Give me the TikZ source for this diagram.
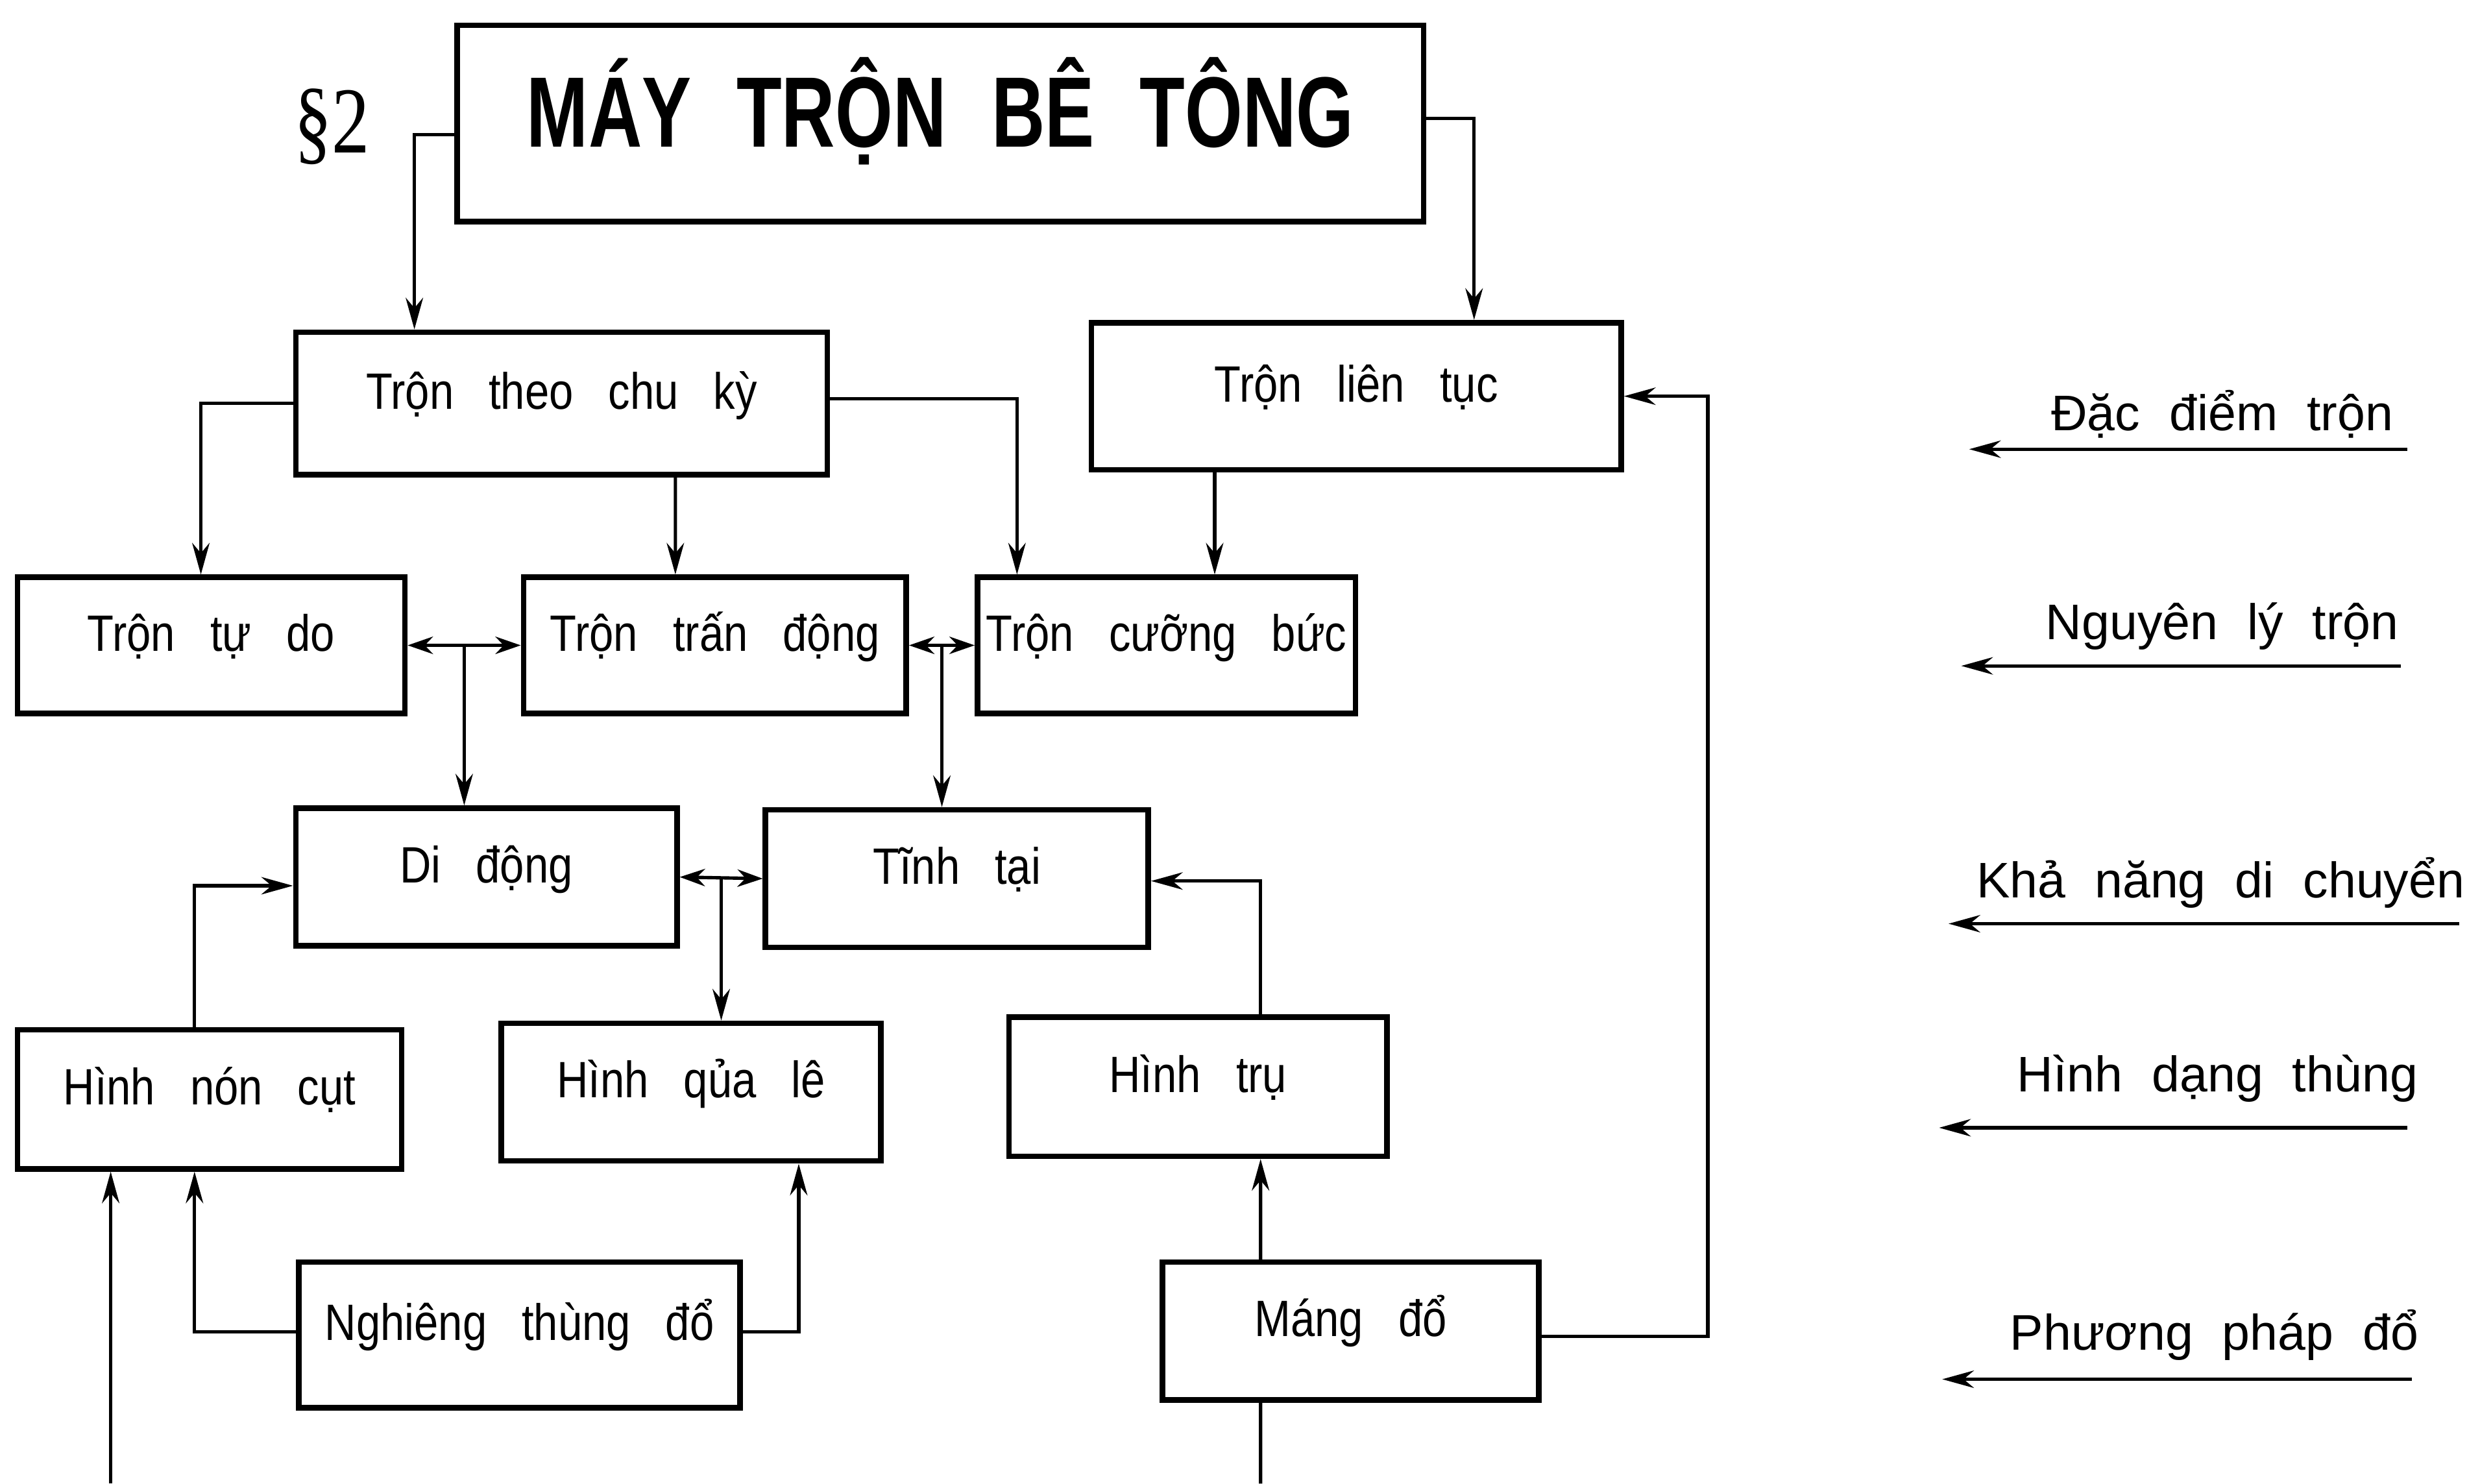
\documentclass[tikz,border=0pt]{standalone}
\usepackage{fontspec}
\setmainfont{Liberation Sans}
\newfontfamily\boxfont[FakeStretch=0.85,WordSpace=2.9]{Liberation Sans}
\newfontfamily\titlefont[FakeStretch=0.74,WordSpace=2.2]{Liberation Sans}
\newfontfamily\legfont[WordSpace=2.1]{Liberation Sans}
\newfontfamily\parafont[FakeStretch=0.8]{Liberation Serif}
\usepackage{tikz}
\usetikzlibrary{arrows.meta,calc}

\tikzset{
    box/.style={draw, line width=1pt, inner sep=0pt, minimum width=2.41cm, minimum height=0.87cm,
        text height=0.27cm, text depth=0.2cm, font=\boxfont\fontsize{9.2}{11}\selectfont},
    link/.style={line width=0.6pt, -{Stealth[length=2mm,width=1.1mm]}},
    both/.style={line width=0.6pt, {Stealth[length=1.6mm,width=1.1mm]}-{Stealth[length=1.6mm,width=1.1mm]}},
    plain/.style={line width=0.6pt},
    legend/.style={font=\legfont\fontsize{9}{11}\selectfont, inner sep=0pt}
}

\begin{document}
\begin{tikzpicture}
        \useasboundingbox (0,0) rectangle (15.68,-9.38);

        \node[box, minimum width=6.11cm, minimum height=1.24cm, text height=0.45cm, text depth=0.15cm,
            font=\titlefont\bfseries\fontsize{18}{20}\selectfont] (may) at (5.945,-0.78) {MÁY TRỘN BÊ TÔNG};
        \node[font=\parafont\fontsize{17}{20}\selectfont, inner sep=0pt] (para) at (2.10,-0.80) {§2};

        \node[box, minimum width=3.36cm, minimum height=0.90cm] (theo) at (3.55,-2.55) {Trộn theo chu kỳ};
        \node[box, minimum width=3.35cm, minimum height=0.93cm] (lt) at (8.575,-2.505) {Trộn liên tục};

        \node[box, minimum width=2.45cm, minimum height=0.86cm] (tudo) at (1.335,-4.08) {Trộn tự do};
        \node[box, minimum width=2.42cm, minimum height=0.86cm] (tran) at (4.52,-4.08) {Trộn trấn động};
        \node[box, minimum width=2.39cm, minimum height=0.86cm] (cuong) at (7.375,-4.08) {Trộn cưỡng bức};

        \node[box] (didong) at (3.075,-5.545) {Di động};
        \node[box, minimum width=2.42cm] (tinh) at (6.05,-5.555) {Tĩnh tại};

        \node[box, minimum width=2.43cm, minimum height=0.88cm] (noncut) at (1.325,-6.95) {Hình nón cụt};
        \node[box, minimum width=2.40cm] (quale) at (4.37,-6.905) {Hình qủa lê};
        \node[box, minimum width=2.39cm, minimum height=0.88cm] (tru) at (7.575,-6.87) {Hình trụ};

        \node[box, minimum width=2.79cm, minimum height=0.92cm] (nghieng) at (3.285,-8.44) {Nghiêng thùng đổ};
        \node[box, minimum width=2.38cm] (mang) at (8.54,-8.415) {Máng đổ};

        \coordinate (j1) at ($(tudo.east)!0.5!(tran.west)$);
        \coordinate (j2) at ($(tran.east)!0.5!(cuong.west)$);
        \coordinate (j3) at ($(didong.east)!0.5!(tinh.west)$);
        \coordinate (in1) at (0.70,-9.38);
        \coordinate (out1) at (7.97,-9.38);

        \draw[link] ([yshift=-0.07cm]may.west) -| ([xshift=-0.93cm]theo.north);
        \draw[link] ([yshift=0.03cm]may.east) -| ([xshift=0.745cm]lt.north);

        \draw[link] (theo.west) -| ([xshift=-0.065cm]tudo.north);
        \draw[link] ([xshift=0.72cm]theo.south) -- ([xshift=-0.25cm]tran.north);
        \draw[link] ([yshift=0.03cm]theo.east) -| ([xshift=-0.945cm]cuong.north);
        \draw[link] ([xshift=-0.895cm]lt.south) -- ([xshift=0.305cm]cuong.north);

        \draw[both] (tudo.east) -- (tran.west);
        \draw[both] (tran.east) -- (cuong.west);
        \draw[both] (didong.east) -- (tinh.west);
        \draw[link] (j1) -- (j1 |- didong.north);
        \draw[link] (j2) -- (j2 |- tinh.north);
        \draw[link] (j3) -- (j3 |- quale.north);

        \draw[link] ([xshift=-0.095cm]noncut.north) |- ([yshift=-0.055cm]didong.west);
        \draw[link] ([xshift=0.395cm]tru.north) |- ([yshift=-0.015cm]tinh.east);

        \draw[link] ([yshift=0.02cm]nghieng.west) -| ([xshift=-0.095cm]noncut.south);
        \draw[link] ([yshift=0.02cm]nghieng.east) -| ([xshift=0.68cm]quale.south);
        \draw[link] ([xshift=-0.57cm]mang.north) -- ([xshift=0.395cm]tru.south);
        \draw[link] ([yshift=-0.035cm]mang.east) -- ++(1.05,0) |- (lt.east);

        \draw[link] (in1) -- (in1 |- noncut.south);
        \draw[plain] ([xshift=-0.57cm]mang.south) -- (out1);

        \node[legend] (l1) at (14.05,-2.62) {Đặc điểm trộn};
        \node[legend] (l2) at (14.05,-3.96) {Nguyên lý trộn};
        \node[legend] (l3) at (14.04,-5.58) {Khả năng di chuyển};
        \node[legend] (l4) at (14.02,-6.82) {Hình dạng thùng};
        \node[legend] (l5) at (14.00,-8.44) {Phương pháp đổ};

        \coordinate (a1) at (15.22,-2.84);
        \coordinate (b1) at (12.45,-2.84);
        \coordinate (a2) at (15.18,-4.21);
        \coordinate (b2) at (12.40,-4.21);
        \coordinate (a3) at (15.55,-5.84);
        \coordinate (b3) at (12.32,-5.84);
        \coordinate (a4) at (15.22,-7.13);
        \coordinate (b4) at (12.26,-7.13);
        \coordinate (a5) at (15.25,-8.72);
        \coordinate (b5) at (12.28,-8.72);

        \draw[link] (a1) -- (b1);
        \draw[link] (a2) -- (b2);
        \draw[link] (a3) -- (b3);
        \draw[link] (a4) -- (b4);
        \draw[link] (a5) -- (b5);
\end{tikzpicture}
\end{document}
